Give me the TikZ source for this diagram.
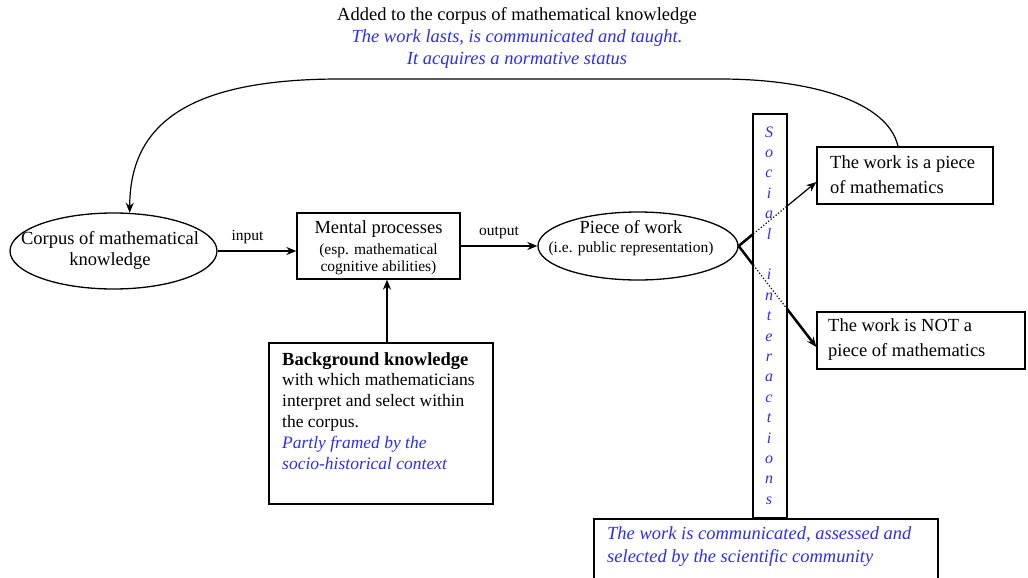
\documentclass[tikz,border=0pt]{standalone}
\usepackage{fontspec}
\setmainfont{Liberation Serif}
\usetikzlibrary{shapes.geometric,calc,arrows.meta}
\definecolor{txtblue}{RGB}{45,45,240}
\tikzset{
	box/.style={draw,line width=1.3pt,inner sep=0pt},
	oval/.style={draw,ellipse,line width=1.3pt,inner sep=0pt},
	txt/.style={font=\fontsize{18.5}{21}\selectfont},
	smalltxt/.style={font=\fontsize{15.5}{17}\selectfont},
	bluetxt/.style={text=txtblue,font=\fontsize{18.5}{22}\selectfont\itshape},
	socialtxt/.style={text=txtblue,font=\fontsize{16}{18}\selectfont\itshape,anchor=base,inner sep=0pt},
	heavy/.style={line width=2.5pt},
}
\begin{document}
\begin{tikzpicture}[x=1pt,y=-1pt,>={Stealth[length=10pt,width=8pt]}]
	\useasboundingbox (0,0) rectangle (1028,578);
	\node[txt] (added) at (517,16) {Added to the corpus of mathematical knowledge};
	\node[bluetxt,align=center] (lasts) at (517,49) {The work lasts, is communicated and taught.\\It acquires a normative status};

	\node[oval,minimum width=207,minimum height=76] (corpus) at (113.5,251) {};
	\node[txt,align=center] (corpustext) at (110,250.5) {Corpus of mathematical\\knowledge};

	\node[box,minimum width=163,minimum height=66] (mental) at (378.5,246) {};
	\node[txt] (mentaltop) at (378.5,229) {Mental processes};
	\node[smalltxt,align=center] (mentalsub) at (378.5,259.5) {(esp. mathematical\\cognitive abilities)};

	\node[oval,minimum width=200,minimum height=68] (piece) at (638,246) {};
	\node[txt] (piecetop) at (631,227) {Piece of work};
	\node[smalltxt] (piecesub) at (631,249) {(i.e. public representation)};

	\node[box,minimum width=34,minimum height=404] (social) at (770,316) {};
	\foreach \c [count=\k from 0] in {S,o,c,i,a,l}{
		\node[socialtxt] (s\k) at (769,{137+20.4*\k}) {\c};
	}
	\foreach \c [count=\k from 7] in {i,n,t,e,r,a,c,t,i,o,n,s}{
		\node[socialtxt] (s\k) at (769,{137+20.4*\k}) {\c};
	}

	\node[box,minimum width=176,minimum height=57] (piecemath) at (905,175.5) {};
	\node[font=\fontsize{18.5}{25}\selectfont,align=left,anchor=west,inner sep=0pt] (piecemathtext) at (830,174.5) {The work is a piece\\of mathematics};
	\node[box,minimum width=208,minimum height=57] (notmath) at (921,340.5) {};
	\node[font=\fontsize{18.5}{25}\selectfont,align=left,anchor=west,inner sep=0pt] (notmathtext) at (828,339.5) {The work is NOT a\\piece of mathematics};

	\node[box,minimum width=224,minimum height=161] (bg) at (381,423.5) {};
	\node[align=left,anchor=north west,inner sep=0pt,font=\fontsize{17.5}{20.8}\selectfont] (bgtext) at (282,352) {{\bfseries\fontsize{18.5}{20.8}\selectfont Background knowledge}\\with which mathematicians\\interpret and select within\\the corpus.\\{\color{txtblue}\itshape Partly framed by the}\\{\color{txtblue}\itshape socio-historical context}};

	\node[box,minimum width=344,minimum height=63] (community) at (766,550.5) {};
	\node[bluetxt,font=\fontsize{18.5}{23}\selectfont\itshape,align=left,anchor=west,inner sep=0pt] (communitytext) at (607,546.5) {The work is communicated, assessed and\\selected by the scientific community};

	\draw[->,heavy] (corpus.east) -- (corpus.east -| mental.west) node[pos=0.38,above=3pt,smalltxt]{input};
	\draw[->,heavy] (mental.east |- piece.west) -- (piece.west) node[midway,above=3pt,smalltxt]{output};
	\draw[->,heavy] ([xshift=6pt]bg.north) -- ([xshift=6pt]bg.north |- mental.south);

	\coordinate (e1) at ([yshift=-6.5pt]piecemath.west);
	\coordinate (e2) at ([yshift=-6.5pt]notmath.west);
	\draw[heavy] (piece.east) -- ($(piece.east)!0.19!(e1)$);
	\draw[dotted,line width=1.2pt] ($(piece.east)!0.19!(e1)$) -- ($(piece.east)!0.62!(e1)$);
	\draw[->,line width=1.2pt] ($(piece.east)!0.62!(e1)$) -- (e1);
	\draw[heavy] (piece.east) -- ($(piece.east)!0.19!(e2)$);
	\draw[dotted,line width=1.2pt] ($(piece.east)!0.19!(e2)$) -- ($(piece.east)!0.62!(e2)$);
	\draw[->,heavy] ($(piece.east)!0.62!(e2)$) -- (e2);

	\coordinate (topR) at (720,79);
	\coordinate (topL) at (340,79);
	\draw[->,line width=1.2pt] ([xshift=-7pt]piecemath.north) .. controls +(-10,-45) and +(90,0) .. (topR) -- (topL) .. controls +(-150,0) and +(0,-90) .. (corpus.67);
\end{tikzpicture}
\end{document}
